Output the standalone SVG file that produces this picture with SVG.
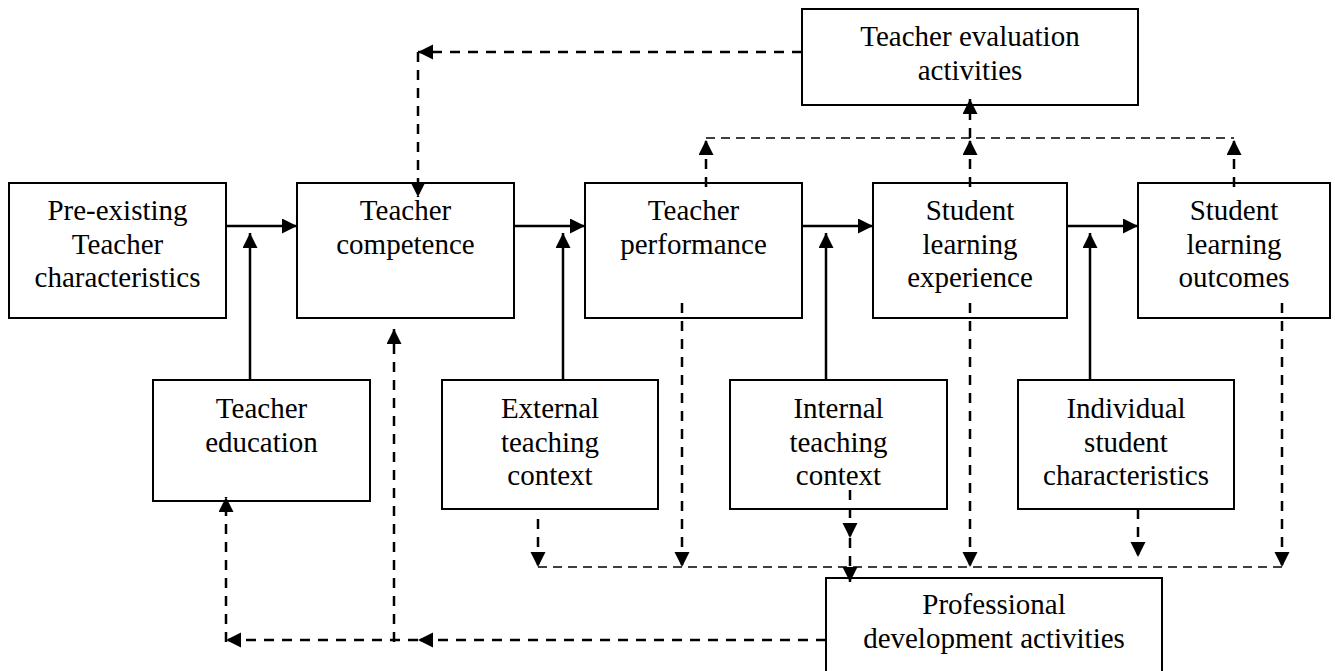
<svg xmlns="http://www.w3.org/2000/svg" width="1335" height="671" viewBox="0 0 1335 671">
<style>
  .box { fill: #fff; stroke: #000; stroke-width: 2; }
  .lbl { font-family: "Liberation Serif", "Times New Roman", serif; font-size: 29px; fill: #000; text-anchor: middle; }
  .solid { fill: none; stroke: #000; stroke-width: 2.5; }
  .dash { fill: none; stroke: #000; stroke-width: 2.5; stroke-dasharray: 10 8; }
  .thin { fill: none; stroke: #000; stroke-width: 1.6; stroke-dasharray: 9 6; }
</style>
<defs>
  <marker id="ah" markerUnits="userSpaceOnUse" markerWidth="16" markerHeight="16" refX="15" refY="7.5" orient="auto" viewBox="0 0 16 16">
    <path d="M0,0 L15,7.5 L0,15 Z" fill="#000"/>
  </marker>
</defs>
<rect width="1335" height="671" fill="#fff"/>

<g id="teacher-evaluation">
  <rect class="box" x="802" y="9" width="336" height="96"/>
  <text class="lbl" x="970" y="46">Teacher evaluation</text>
  <text class="lbl" x="970" y="80">activities</text>
</g>
<g id="pre-existing">
  <rect class="box" x="9" y="183" width="217" height="135"/>
  <text class="lbl" x="117.5" y="220">Pre-existing</text>
  <text class="lbl" x="117.5" y="253.5">Teacher</text>
  <text class="lbl" x="117.5" y="287">characteristics</text>
</g>
<g id="teacher-competence">
  <rect class="box" x="297" y="183" width="217" height="135"/>
  <text class="lbl" x="405.5" y="220">Teacher</text>
  <text class="lbl" x="405.5" y="253.5">competence</text>
</g>
<g id="teacher-performance">
  <rect class="box" x="585" y="183" width="217" height="135"/>
  <text class="lbl" x="693.5" y="220">Teacher</text>
  <text class="lbl" x="693.5" y="253.5">performance</text>
</g>
<g id="student-learning-experience">
  <rect class="box" x="873" y="183" width="194" height="135"/>
  <text class="lbl" x="970" y="220">Student</text>
  <text class="lbl" x="970" y="253.5">learning</text>
  <text class="lbl" x="970" y="287">experience</text>
</g>
<g id="student-learning-outcomes">
  <rect class="box" x="1138" y="183" width="192" height="135"/>
  <text class="lbl" x="1234" y="220">Student</text>
  <text class="lbl" x="1234" y="253.5">learning</text>
  <text class="lbl" x="1234" y="287">outcomes</text>
</g>
<g id="teacher-education">
  <rect class="box" x="153" y="380" width="217" height="121"/>
  <text class="lbl" x="261.5" y="418">Teacher</text>
  <text class="lbl" x="261.5" y="451.5">education</text>
</g>
<g id="external-teaching-context">
  <rect class="box" x="442" y="380" width="216" height="129"/>
  <text class="lbl" x="550" y="418">External</text>
  <text class="lbl" x="550" y="451.5">teaching</text>
  <text class="lbl" x="550" y="485">context</text>
</g>
<g id="internal-teaching-context">
  <rect class="box" x="730" y="380" width="217" height="129"/>
  <text class="lbl" x="838.5" y="418">Internal</text>
  <text class="lbl" x="838.5" y="451.5">teaching</text>
  <text class="lbl" x="838.5" y="485">context</text>
</g>
<g id="individual-student-characteristics">
  <rect class="box" x="1018" y="380" width="216" height="129"/>
  <text class="lbl" x="1126" y="418">Individual</text>
  <text class="lbl" x="1126" y="451.5">student</text>
  <text class="lbl" x="1126" y="485">characteristics</text>
</g>
<g id="professional-development">
  <rect class="box" x="826" y="578" width="336" height="100"/>
  <text class="lbl" x="994" y="614">Professional</text>
  <text class="lbl" x="994" y="648">development activities</text>
</g>

<g id="connectors">
  <!-- main solid chain -->
  <path class="solid" d="M226,226 H297" marker-end="url(#ah)"/>
  <path class="solid" d="M514,226 H585" marker-end="url(#ah)"/>
  <path class="solid" d="M802,226 H873" marker-end="url(#ah)"/>
  <path class="solid" d="M1067,226 H1138" marker-end="url(#ah)"/>
  <!-- moderators -->
  <path class="solid" d="M250,380 V233" marker-end="url(#ah)"/>
  <path class="solid" d="M563,380 V233" marker-end="url(#ah)"/>
  <path class="solid" d="M826,380 V233" marker-end="url(#ah)"/>
  <path class="solid" d="M1090,380 V233" marker-end="url(#ah)"/>

  <!-- evaluation feedback to competence -->
  <path class="dash" d="M802,52 H418" marker-end="url(#ah)"/>
  <path class="dash" d="M418,52 V197" marker-end="url(#ah)"/>

  <!-- up to evaluation -->
  <path class="thin" d="M706,138 H1234"/>
  <path class="dash" d="M706,187 V140" marker-end="url(#ah)"/>
  <path class="dash" d="M970,187 V140" marker-end="url(#ah)"/>
  <path class="dash" d="M970,138 V99" marker-end="url(#ah)"/>
  <path class="dash" d="M1234,187 V140" marker-end="url(#ah)"/>

  <!-- down to professional development -->
  <path class="thin" d="M538,567 H1282"/>
  <path class="dash" d="M538,519 V567" marker-end="url(#ah)"/>
  <path class="dash" d="M682,303 V567" marker-end="url(#ah)"/>
  <path class="dash" d="M850,490 V538" marker-end="url(#ah)"/>
  <path class="dash" d="M850,538 V582" marker-end="url(#ah)"/>
  <path class="dash" d="M970,303 V567" marker-end="url(#ah)"/>
  <path class="dash" d="M1138,509 V557" marker-end="url(#ah)"/>
  <path class="dash" d="M1282,303 V567" marker-end="url(#ah)"/>

  <!-- professional development feedback -->
  <path class="dash" d="M826,640 H418" marker-end="url(#ah)"/>
  <path class="dash" d="M418,640 H226" marker-end="url(#ah)"/>
  <path class="dash" d="M394,642 V329" marker-end="url(#ah)"/>
  <path class="dash" d="M226,642 V497" marker-end="url(#ah)"/>
</g>
</svg>
